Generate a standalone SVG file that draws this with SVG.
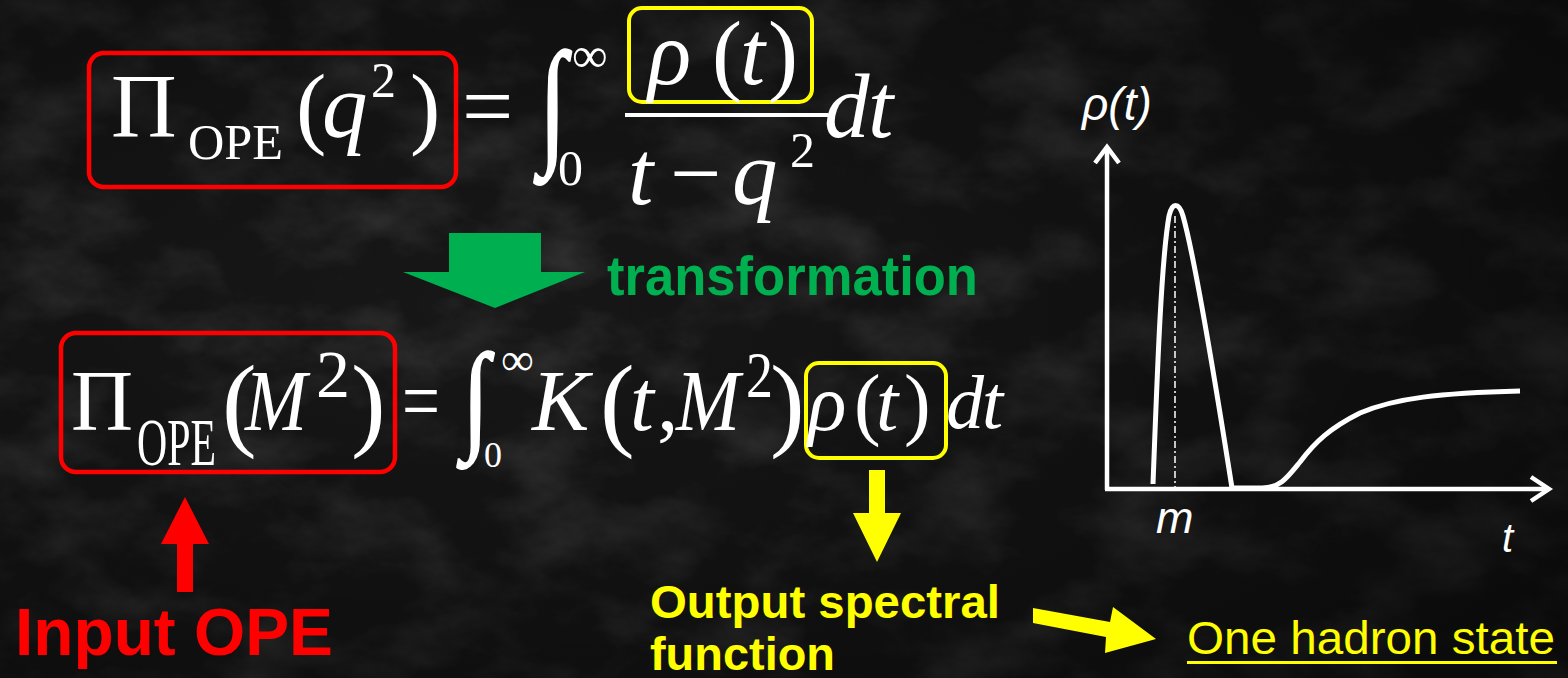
<svg xmlns="http://www.w3.org/2000/svg" width="1568" height="678" viewBox="0 0 1568 678">
<defs>
<style>
.m{font-family:"Liberation Serif","Times New Roman",serif;fill:#fff}
.i{font-style:italic}
.s{font-family:"Liberation Sans",Arial,sans-serif}
.int{stroke:#fff;stroke-width:1.3}
.rbox{fill:none;stroke:#ff0000;stroke-width:4.5}
.ybox{fill:none;stroke:#ffff00;stroke-width:4}
.ax{fill:none;stroke:#fff;stroke-width:4.5;stroke-linecap:butt;stroke-linejoin:miter}
.cv{fill:none;stroke:#fff;stroke-width:5;stroke-linejoin:round}
</style>
<filter id="tex" x="0" y="0" width="100%" height="100%">
<feTurbulence type="fractalNoise" baseFrequency="0.01 0.016" numOctaves="5" seed="7"/>
<feColorMatrix type="matrix" values="0 0 0 0 1 0 0 0 0 1 0 0 0 0 1 0.28 0 0 0 -0.12"/>
</filter>
<radialGradient id="vig" cx="0.3" cy="0.45" r="0.85">
<stop offset="0" stop-color="#000" stop-opacity="0"/>
<stop offset="1" stop-color="#000" stop-opacity="0.55"/>
</radialGradient>
</defs>
<g id="background">
<rect width="1568" height="678" fill="#171717"/>
<rect width="1568" height="678" filter="url(#tex)"/>
<rect width="1568" height="678" fill="url(#vig)"/>
</g>

<g id="eq1">
<g id="eq1-lhs">
<rect class="rbox" x="89" y="53" width="367" height="134" rx="15"/>
<text class="m" x="111" y="137" font-size="91">Π</text>
<text class="m" x="188" y="159" font-size="51" textLength="95" lengthAdjust="spacingAndGlyphs">OPE</text>
<text class="m" x="296" y="137" font-size="91">(</text>
<text class="m i" x="322" y="137" font-size="91">q</text>
<text class="m" x="371" y="97" font-size="50">2</text>
<text class="m" x="410" y="137" font-size="91">)</text>
</g>
<text class="m" x="462" y="137" font-size="91">=</text>
<text class="m int" x="0" y="0" font-size="91" transform="translate(539,148) scale(1.1,1.52)">∫</text>
<text class="m" x="572" y="72" font-size="50">∞</text>
<text class="m" x="558" y="185" font-size="50">0</text>
<g id="eq1-rho">
<rect class="ybox" x="629" y="8" width="183" height="94" rx="13"/>
<text class="m i" x="648" y="84" font-size="90">ρ</text>
<text class="m" x="712" y="84" font-size="90">(</text>
<text class="m i" x="740" y="84" font-size="90">t</text>
<text class="m" x="768" y="84" font-size="90">)</text>
</g>
<rect x="625" y="113" width="203" height="4" fill="#fff"/>
<text class="m i" x="824" y="137" font-size="91">d</text>
<text class="m i" x="868" y="137" font-size="91">t</text>
<text class="m i" x="628" y="204" font-size="91">t</text>
<text class="m" x="670" y="204" font-size="91">−</text>
<text class="m i" x="732" y="204" font-size="91">q</text>
<text class="m" x="790" y="167" font-size="50">2</text>
</g>

<g id="eq2">
<g id="eq2-lhs">
<rect class="rbox" x="61" y="333" width="334" height="139" rx="15"/>
<text class="m" x="71" y="430" font-size="86">Π</text>
<text class="m" x="137" y="465" font-size="68" textLength="79" lengthAdjust="spacingAndGlyphs">OPE</text>
<text class="m" x="222" y="437" font-size="104">(</text>
<text class="m i" x="245" y="430" font-size="86" textLength="62" lengthAdjust="spacingAndGlyphs">M</text>
<text class="m" x="316" y="397" font-size="68">2</text>
<text class="m" x="351" y="437" font-size="104">)</text>
</g>
<text class="m" x="402" y="430" font-size="86" textLength="38" lengthAdjust="spacingAndGlyphs">=</text>
<text class="m int" x="0" y="0" font-size="86" transform="translate(462,437) scale(1.15,1.4)">∫</text>
<text class="m" x="501" y="375" font-size="46">∞</text>
<text class="m" x="484" y="467" font-size="36">0</text>
<text class="m i" x="532" y="430" font-size="86">K</text>
<text class="m" x="600" y="437" font-size="104">(</text>
<text class="m i" x="630" y="430" font-size="86">t</text>
<text class="m" x="657" y="430" font-size="86">,</text>
<text class="m i" x="676" y="430" font-size="86" textLength="64" lengthAdjust="spacingAndGlyphs">M</text>
<text class="m" x="746" y="397" font-size="66" textLength="27" lengthAdjust="spacingAndGlyphs">2</text>
<text class="m" x="770" y="437" font-size="104">)</text>
<g id="eq2-rho">
<rect class="ybox" x="806" y="363" width="140" height="95" rx="13"/>
<text class="m i" x="808" y="430" font-size="80">ρ</text>
<text class="m" x="854" y="430" font-size="80">(</text>
<text class="m i" x="876" y="430" font-size="80">t</text>
<text class="m" x="904" y="430" font-size="80">)</text>
</g>
<text class="m i" x="946" y="428" font-size="76">d</text>
<text class="m i" x="982" y="428" font-size="76">t</text>
</g>

<g id="label-transformation">
<text class="s" x="607" y="295" font-size="56" font-weight="bold" fill="#00b050" textLength="371" lengthAdjust="spacingAndGlyphs">transformation</text>
</g>
<g id="label-input">
<text class="s" x="15" y="655" font-size="66" font-weight="bold" fill="#ff0000" textLength="318" lengthAdjust="spacingAndGlyphs">Input OPE</text>
</g>
<g id="label-output">
<text class="s" x="650" y="618" font-size="46" font-weight="bold" fill="#ffff00" textLength="350" lengthAdjust="spacingAndGlyphs">Output spectral</text>
<text class="s" x="650" y="670" font-size="46" font-weight="bold" fill="#ffff00" textLength="185" lengthAdjust="spacingAndGlyphs">function</text>
</g>
<g id="label-hadron">
<text class="s" x="1187" y="654" font-size="46" fill="#ffff00" textLength="368" lengthAdjust="spacingAndGlyphs">One hadron state</text>
<rect x="1187" y="661" width="370" height="3" fill="#ffff00"/>
</g>

<g id="plot">
<path class="ax" d="M1107,490 V147"/>
<path class="ax" d="M1095,163 L1107,147 L1119,163"/>
<path class="ax" d="M1105,489 H1549"/>
<path class="ax" d="M1531,477 L1549,489 L1531,501"/>
<path d="M1175,216 V487" fill="none" stroke="#fff" stroke-width="1.5" stroke-dasharray="7 3 2 3"/>
<path class="cv" d="M1153,484 C1157,380 1161,262 1169,216 C1172,202 1179,202 1183,216 C1196,262 1215,380 1232,488 L1262,488 C1280,488 1287,478 1300,462 C1315,442 1330,428 1360,413 C1395,398 1440,393 1520,391"/>
<text class="s i" x="1082" y="120" font-size="46" fill="#fff">ρ(t)</text>
<text class="s i" x="1156" y="533" font-size="45" fill="#fff">m</text>
<text class="s i" x="1502" y="552" font-size="40" fill="#fff">t</text>
</g>

<g id="connectors">
<polygon id="arrow-transform" points="449,233 541,233 541,272 585,272 495,308 403,272 449,272" fill="#00b050"/>
<polygon id="arrow-input" points="177,592 193,592 193,544 209,544 185,497 161,544 177,544" fill="#ff0000"/>
<polygon id="arrow-output" points="869,470 885,470 885,513 901,513 877,562 853,513 869,513" fill="#ffff00"/>
<polygon id="arrow-hadron" points="1033,608 1110,622 1113,607 1156,639 1105,653 1106,637 1033,623" fill="#ffff00"/>
</g>
</svg>
